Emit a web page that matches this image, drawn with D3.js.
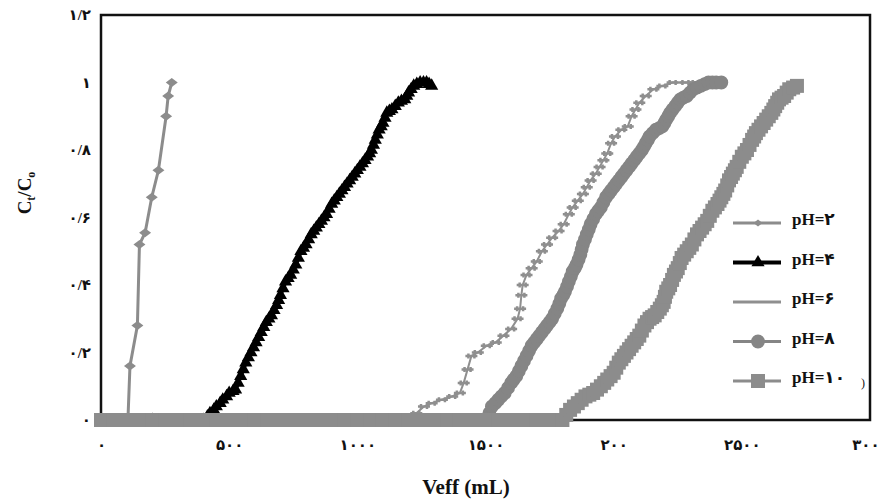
<!DOCTYPE html>
<html>
<head>
<meta charset="utf-8">
<script src="https://cdn.jsdelivr.net/npm/d3@7"></script>
<style>
    body { margin: 0; background: #fff; }
    svg text { font-family: "Liberation Serif", "DejaVu Sans", serif; font-weight: bold; fill: #111; }
    .tick text { font-size: 15px; }
    .legend text { font-size: 17px; }
</style>
</head>
<body>
<svg id="chart" width="879" height="499"></svg>
<script>
    // tick labels, Persian digits as in the original (note "۲۰۰" typo kept)
    var yTicks = [0, 0.2, 0.4, 0.6, 0.8, 1, 1.2];
    var yTickLabels = ["۰", "۰/۲", "۰/۴", "۰/۶", "۰/۸", "۱", "۱/۲"];
    var xTicks = [0, 500, 1000, 1500, 2000, 2500, 3000];
    var xTickLabels = ["۰", "۵۰۰", "۱۰۰۰", "۱۵۰۰", "۲۰۰", "۲۵۰۰", "۳۰۰۰"];

    var seriesNames = ["pH=۲", "pH=۴", "pH=۶", "pH=۸", "pH=۱۰"];

    // [Veff (mL), Ct/Co]
    var ph2 = [[0, 0], [50, 0], [105, 0], [113, 0.16], [142, 0.28], [150, 0.52], [172, 0.555],
        [198, 0.66], [224, 0.74], [254, 0.90], [262, 0.96], [276, 1.0]];

    var ph4 = [[0, 0], [200, 0], [400, 0], [415, 0.01], [425, 0.02], [440, 0.03], [450, 0.04], [465, 0.05],
        [475, 0.06], [490, 0.07], [500, 0.08], [515, 0.085], [525, 0.09], [535, 0.11], [545, 0.13],
        [555, 0.15], [565, 0.17], [575, 0.185], [585, 0.20], [595, 0.215], [605, 0.23], [615, 0.245],
        [625, 0.26], [635, 0.275], [645, 0.29], [655, 0.30], [665, 0.31], [675, 0.325], [685, 0.34],
        [693, 0.355], [700, 0.37], [710, 0.39], [720, 0.41], [730, 0.42], [740, 0.43], [750, 0.445],
        [760, 0.46], [770, 0.48], [780, 0.50], [790, 0.51], [800, 0.52], [810, 0.535], [820, 0.55],
        [830, 0.56], [840, 0.57], [850, 0.58], [860, 0.59], [870, 0.60], [880, 0.61], [890, 0.625],
        [900, 0.64], [910, 0.65], [920, 0.66], [930, 0.67], [940, 0.68], [950, 0.69], [960, 0.70],
        [970, 0.71], [980, 0.72], [990, 0.73], [1000, 0.74], [1010, 0.75], [1020, 0.76], [1030, 0.77],
        [1040, 0.78], [1048, 0.79], [1055, 0.80], [1063, 0.815], [1070, 0.83], [1078, 0.845], [1085, 0.86],
        [1093, 0.87], [1100, 0.88], [1108, 0.895], [1115, 0.91], [1125, 0.915], [1135, 0.92], [1148, 0.93],
        [1160, 0.94], [1172, 0.945], [1185, 0.95], [1193, 0.96], [1200, 0.97], [1210, 0.98], [1220, 0.99],
        [1232, 0.995], [1245, 1.0], [1258, 1.0], [1270, 1.0], [1280, 0.995], [1290, 0.99]];

    var ph6 = [[0, 0], [600, 0], [1190, 0], [1230, 0.02], [1260, 0.04], [1290, 0.05], [1330, 0.06], [1370, 0.07],
        [1400, 0.08], [1415, 0.11], [1430, 0.15], [1445, 0.19], [1470, 0.20], [1505, 0.22], [1540, 0.23],
        [1570, 0.25], [1600, 0.27], [1625, 0.30], [1635, 0.33], [1640, 0.37], [1645, 0.40], [1660, 0.43],
        [1680, 0.45], [1700, 0.47], [1720, 0.50], [1740, 0.52], [1760, 0.54], [1785, 0.56], [1805, 0.58],
        [1825, 0.61], [1840, 0.63], [1860, 0.65], [1880, 0.67], [1895, 0.69], [1910, 0.71], [1930, 0.73],
        [1945, 0.75], [1960, 0.77], [1975, 0.79], [1990, 0.82], [2005, 0.84], [2030, 0.86], [2055, 0.87],
        [2070, 0.90], [2085, 0.92], [2100, 0.94], [2125, 0.96], [2155, 0.98], [2190, 0.99], [2230, 1.0],
        [2280, 1.0], [2320, 1.0]];

    var ph8 = [[0, 0], [500, 0], [1000, 0], [1505, 0], [1515, 0.02], [1525, 0.04], [1538, 0.05], [1550, 0.06],
        [1562, 0.07], [1575, 0.08], [1588, 0.095], [1600, 0.11], [1610, 0.12], [1620, 0.13], [1630, 0.145],
        [1640, 0.16], [1650, 0.175], [1660, 0.19], [1670, 0.205], [1680, 0.22], [1690, 0.23], [1700, 0.24],
        [1710, 0.25], [1720, 0.26], [1730, 0.27], [1740, 0.28], [1750, 0.29], [1760, 0.30], [1770, 0.315],
        [1780, 0.33], [1788, 0.345], [1795, 0.36], [1803, 0.37], [1810, 0.38], [1818, 0.395], [1825, 0.41],
        [1833, 0.425], [1840, 0.44], [1848, 0.45], [1855, 0.46], [1863, 0.475], [1870, 0.49], [1875, 0.505],
        [1880, 0.52], [1888, 0.535], [1895, 0.55], [1903, 0.565], [1910, 0.58], [1920, 0.595], [1930, 0.61],
        [1940, 0.62], [1950, 0.63], [1960, 0.645], [1970, 0.66], [1980, 0.67], [1990, 0.68], [2000, 0.69],
        [2010, 0.70], [2020, 0.71], [2030, 0.72], [2040, 0.73], [2050, 0.74], [2060, 0.75], [2070, 0.76],
        [2080, 0.77], [2090, 0.78], [2100, 0.79], [2110, 0.80], [2118, 0.81], [2125, 0.82], [2133, 0.83],
        [2140, 0.84], [2152, 0.85], [2165, 0.86], [2178, 0.865], [2190, 0.87], [2198, 0.88], [2205, 0.89],
        [2213, 0.90], [2220, 0.91], [2230, 0.92], [2240, 0.93], [2250, 0.94], [2260, 0.95], [2272, 0.955],
        [2285, 0.96], [2298, 0.97], [2310, 0.98], [2325, 0.985], [2340, 0.99], [2355, 0.995], [2370, 1.0],
        [2385, 1.0], [2400, 1.0], [2420, 1.0]];

    var ph10 = [[0, 0], [50, 0], [100, 0], [150, 0], [200, 0], [250, 0], [300, 0], [350, 0], [400, 0],
        [450, 0], [500, 0], [550, 0], [600, 0], [650, 0], [700, 0], [750, 0], [800, 0], [850, 0], [900, 0],
        [950, 0], [1000, 0], [1050, 0], [1100, 0], [1150, 0], [1200, 0], [1250, 0], [1300, 0], [1350, 0],
        [1400, 0], [1450, 0], [1500, 0], [1550, 0], [1600, 0], [1650, 0], [1700, 0], [1750, 0], [1800, 0],
        [1815, 0.015], [1830, 0.03], [1845, 0.04], [1860, 0.05], [1875, 0.06], [1890, 0.07], [1905, 0.075],
        [1920, 0.08], [1935, 0.09], [1950, 0.10], [1963, 0.11], [1975, 0.12], [1988, 0.13], [2000, 0.14],
        [2010, 0.155], [2020, 0.17], [2030, 0.18], [2040, 0.19], [2050, 0.20], [2060, 0.21], [2070, 0.22],
        [2080, 0.23], [2090, 0.24], [2100, 0.25], [2110, 0.265], [2120, 0.28], [2130, 0.29], [2140, 0.30],
        [2150, 0.305], [2160, 0.31], [2170, 0.32], [2180, 0.33], [2188, 0.34], [2195, 0.35], [2200, 0.365],
        [2205, 0.38], [2213, 0.39], [2220, 0.40], [2228, 0.415], [2235, 0.43], [2243, 0.44], [2250, 0.45],
        [2258, 0.465], [2265, 0.48], [2275, 0.49], [2285, 0.50], [2295, 0.51], [2305, 0.52], [2315, 0.535],
        [2325, 0.55], [2335, 0.56], [2345, 0.57], [2355, 0.58], [2365, 0.59], [2375, 0.605], [2385, 0.62],
        [2395, 0.63], [2405, 0.64], [2413, 0.65], [2420, 0.66], [2428, 0.67], [2435, 0.68], [2443, 0.695],
        [2450, 0.71], [2458, 0.72], [2465, 0.73], [2473, 0.74], [2480, 0.75], [2490, 0.765], [2500, 0.78],
        [2510, 0.79], [2520, 0.80], [2530, 0.815], [2540, 0.83], [2548, 0.84], [2555, 0.85], [2565, 0.86],
        [2575, 0.87], [2585, 0.88], [2595, 0.89], [2605, 0.90], [2615, 0.91], [2623, 0.92], [2630, 0.93],
        [2638, 0.94], [2645, 0.95], [2655, 0.955], [2665, 0.96], [2675, 0.97], [2685, 0.98], [2700, 0.985],
        [2715, 0.99]];

    var svg = d3.select("#chart");
    var plotLeft = 101, plotRight = 870, plotTop = 15, plotBottom = 420;

    var x = d3.scaleLinear().domain([0, 3000]).range([plotLeft, plotRight]);
    var y = d3.scaleLinear().domain([0, 1.2]).range([plotBottom, plotTop]);

    // marker shapes
    var diamond = "M-6,0L0,-4.5L6,0L0,4.5Z";
    var tri = d3.symbol().type(d3.symbolTriangle).size(75)();
    var square = "M-7,-7H7V7H-7Z";
    var plus = "M-6,0H6M-3,-2.5V2.5M3,-2.5V2.5";
    var circle = d3.symbol().type(d3.symbolCircle).size(150)();

    var series = [
        {data: ph2, color: "#8c8c8c", width: 3, marker: diamond, legendMarker: "M-4.5,0L0,-3.5L4.5,0L0,3.5Z"},
        {data: ph4, color: "#000", width: 4, marker: tri, legendMarker: tri},
        {data: ph6, color: "#8f8f8f", width: 2, marker: plus, legendMarker: null, stroked: true},
        {data: ph8, color: "#858585", width: 3, marker: circle, legendMarker: circle},
        {data: ph10, color: "#8c8c8c", width: 3, marker: square, legendMarker: square}
    ];

    // frame
    svg.append("rect")
        .attr("x", plotLeft).attr("y", plotTop)
        .attr("width", plotRight - plotLeft).attr("height", plotBottom - plotTop)
        .attr("fill", "none").attr("stroke", "#111").attr("stroke-width", 2.5);

    var line = d3.line().x(function (d) { return x(d[0]); }).y(function (d) { return y(d[1]); });

    series.forEach(function (s) {
        var g = svg.append("g");
        g.append("path").datum(s.data)
            .attr("d", line)
            .attr("fill", "none")
            .attr("stroke", s.color)
            .attr("stroke-width", s.width);
        g.selectAll(".m").data(s.data).enter().append("path")
            .attr("class", "m")
            .attr("d", s.marker)
            .attr("fill", s.stroked ? "none" : s.color)
            .attr("stroke", s.stroked ? s.color : "none")
            .attr("stroke-width", s.stroked ? 2.5 : 0)
            .attr("transform", function (d) { return "translate(" + x(d[0]) + "," + y(d[1]) + ")"; });
    });

    // axes
    var yAxis = d3.axisLeft(y).tickValues(yTicks).tickSize(0).tickPadding(10)
        .tickFormat(function (d, i) { return yTickLabels[i]; });
    var gy = svg.append("g").attr("transform", "translate(" + plotLeft + ",0)").call(yAxis);
    gy.select(".domain").remove();

    var xAxis = d3.axisBottom(x).tickValues(xTicks).tickSize(0).tickPadding(19)
        .tickFormat(function (d, i) { return xTickLabels[i]; });
    var gx = svg.append("g").attr("transform", "translate(0," + plotBottom + ")").call(xAxis);
    gx.select(".domain").remove();
    svg.selectAll(".tick text").attr("fill", "#111");

    // axis titles
    svg.append("text")
        .attr("x", 466).attr("y", 494)
        .attr("text-anchor", "middle")
        .style("font-size", "21px")
        .text("Veff (mL)");

    var yt = svg.append("text")
        .attr("transform", "translate(31,193) rotate(-90)")
        .attr("text-anchor", "middle")
        .style("font-size", "19px");
    yt.append("tspan").text("C");
    yt.append("tspan").attr("dy", 4).style("font-size", "12px").text("t");
    yt.append("tspan").attr("dy", -4).text("/C");
    yt.append("tspan").attr("dy", 4).style("font-size", "12px").text("o");

    // legend
    var legend = svg.append("g").attr("class", "legend");
    series.forEach(function (s, i) {
        var ly = 223 + i * 39.5;
        var row = legend.append("g").attr("transform", "translate(0," + ly + ")");
        row.append("line")
            .attr("x1", 733).attr("x2", 781)
            .attr("stroke", s.color)
            .attr("stroke-width", i === 1 ? 4 : 3);
        if (s.legendMarker) {
            row.append("path").attr("d", s.legendMarker)
                .attr("fill", s.color)
                .attr("transform", "translate(758,0)");
        }
        row.append("text")
            .attr("x", 792).attr("y", 2)
            .text(seriesNames[i]);
    });
    legend.append("text").attr("x", 861).attr("y", 387)
        .style("font-size", "12px").style("font-weight", "normal")
        .text(")");
</script>
</body>
</html>
